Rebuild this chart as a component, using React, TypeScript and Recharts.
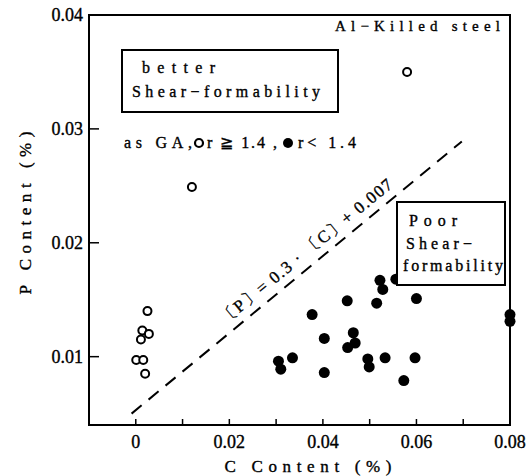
import { ScatterChart, Scatter, XAxis, YAxis, ReferenceArea, ReferenceLine } from "recharts";

// C content (%) and P content (%)
const openC = [0.058, 0.012, 0.0025, 0.0014, 0.0028, 0.0011, 0.0001, 0.0016, 0.002];
const openP = [0.035, 0.0249, 0.0140, 0.0123, 0.0120, 0.0115, 0.0097, 0.0097, 0.0085];

const filledC = [
  0.0522, 0.0528, 0.0556, 0.060, 0.0452, 0.0515, 0.0377, 0.080, 0.080, 0.0403, 0.0465,
  0.0469, 0.0453, 0.0335, 0.0496, 0.0499, 0.0533, 0.0597, 0.0403, 0.0573, 0.0305, 0.031,
];
const filledP = [
  0.0167, 0.0159, 0.0168, 0.0151, 0.0149, 0.0147, 0.0137, 0.0137, 0.0131, 0.0116, 0.0121,
  0.0112, 0.0108, 0.0099, 0.0098, 0.0091, 0.0099, 0.0099, 0.0086, 0.0079, 0.0096, 0.0089,
];

// dashed boundary, end points as drawn
const boundaryC = [-0.0009, 0.0697];
const boundaryP = [0.005, 0.0289];

const xTicks = [0, 0.01, 0.02, 0.03, 0.04, 0.05, 0.06, 0.07, 0.08];
const yTicks = [0.01, 0.02, 0.03, 0.04];
const xDomain = [-0.01, 0.08];
const yDomain = [0.004, 0.04];

const W = 529;
const H = 476;

const openData = openC.map((c, i) => ({ c, p: openP[i] }));
const filledData = filledC.map((c, i) => ({ c, p: filledP[i] }));

// scanned text is a bit heavy, so a thin stroke on top of the fill
const txt = { fontFamily: "Liberation Serif", fill: "#000", stroke: "#000", strokeWidth: 0.35 };

function XTick(props: any) {
  const { x, y, payload } = props;
  const v = payload.value as number;
  const major = Math.round(v * 100) % 2 === 0;
  return (
    <g>
      <line x1={x} y1={y} x2={x} y2={y - 6} stroke="#000" strokeWidth={1.5} />
      {major && (
        <text {...txt} x={x} y={y + 23} textAnchor="middle" fontSize={18}>
          {v === 0 ? "0" : v.toFixed(2)}
        </text>
      )}
    </g>
  );
}

function YTick(props: any) {
  const { x, y, payload } = props;
  const v = payload.value as number;
  return (
    <g>
      <line x1={x} y1={y} x2={x + 10} y2={y} stroke="#000" strokeWidth={1.5} />
      <text {...txt} x={x - 6} y={y + 6} textAnchor="end" fontSize={18}>
        {v.toFixed(2)}
      </text>
    </g>
  );
}

const OpenDot = (p: any) => <circle cx={p.cx} cy={p.cy} r={4} fill="#fff" stroke="#000" strokeWidth={2} />;
const FilledDot = (p: any) => <circle cx={p.cx} cy={p.cy} r={5.5} fill="#000" />;

export default function App() {
  return (
    <div style={{ position: "absolute", left: 0, top: 0, width: W, height: H, background: "#fff" }}>
      <ScatterChart width={W} height={H} margin={{ top: 15, right: 19, bottom: 0, left: 0 }}>
        <XAxis
          type="number"
          dataKey="c"
          domain={xDomain}
          ticks={xTicks}
          height={51}
          tickSize={0}
          tickMargin={0}
          tick={<XTick />}
          axisLine={{ stroke: "#000", strokeWidth: 2 }}
        />
        <YAxis
          type="number"
          dataKey="p"
          domain={yDomain}
          ticks={yTicks}
          width={89}
          tickSize={0}
          tickMargin={0}
          tick={<YTick />}
          axisLine={{ stroke: "#000", strokeWidth: 2 }}
        />
        <ReferenceArea
          x1={xDomain[0]}
          x2={xDomain[1]}
          y1={yDomain[0]}
          y2={yDomain[1]}
          fill="none"
          stroke="#000"
          strokeWidth={2}
          ifOverflow="visible"
        />
        <ReferenceLine
          segment={[
            { x: boundaryC[0], y: boundaryP[0] },
            { x: boundaryC[1], y: boundaryP[1] },
          ]}
          stroke="#000"
          strokeWidth={2}
          strokeDasharray="13 9"
        />
        <Scatter data={openData} shape={OpenDot} isAnimationActive={false} />
        <Scatter data={filledData} shape={FilledDot} isAnimationActive={false} />
      </ScatterChart>

      <svg width={W} height={H} style={{ position: "absolute", left: 0, top: 0, pointerEvents: "none" }}>
        {/* axis titles */}
        <text {...txt} x={308} y={472} fontSize={17} textAnchor="middle" textLength={167}>
          C Content (%)
        </text>
        <text {...txt} x={0} y={0} fontSize={17} textAnchor="middle" textLength={163} transform="translate(31 213) rotate(-90)">
          P Content (%)
        </text>

        <text {...txt} x={335} y={31} fontSize={15} textLength={165}>
          Al−Killed steel
        </text>

        <rect x={122} y={50} width={216} height={62} fill="none" stroke="#000" strokeWidth={2} />
        <text {...txt} x={142} y={73} fontSize={16} textLength={73}>
          better
        </text>
        <text {...txt} x={132} y={97} fontSize={16} textLength={188}>
          Shear−formability
        </text>

        <text {...txt} x={124} y={148} fontSize={16} textLength={68}>
          as GA,
        </text>
        <circle cx={199} cy={143} r={4} fill="none" stroke="#000" strokeWidth={2.2} />
        <text {...txt} x={207} y={148} fontSize={16} textLength={70}>
          r ≧ 1.4 ,
        </text>
        <circle cx={288} cy={143} r={5} fill="#000" />
        <text {...txt} x={298} y={148} fontSize={16} textLength={58}>
          r{"< "}1.4
        </text>

        <rect x={397} y={202} width={108} height={83} fill="#fff" stroke="#000" strokeWidth={2} />
        <text {...txt} x={409} y={226} fontSize={16} textLength={48}>
          Poor
        </text>
        <text {...txt} x={406} y={249} fontSize={16} textLength={66}>
          Shear−
        </text>
        <text {...txt} x={403} y={271} fontSize={16} textLength={100}>
          formability
        </text>

        <text {...txt} x={0} y={0} fontSize={17} textLength={218} transform="translate(225 325) rotate(-39.4)">
          〔P〕= 0.3 · 〔C〕+ 0.007
        </text>
      </svg>
    </div>
  );
}
